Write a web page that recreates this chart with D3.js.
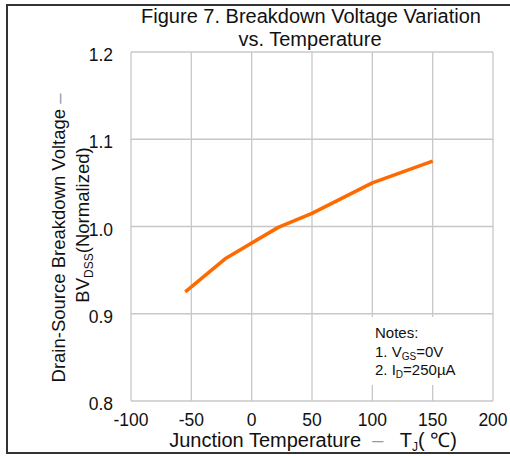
<!DOCTYPE html>
<meta charset="utf-8">
<head>
  <title>Figure 7. Breakdown Voltage Variation</title>
</head>
<style>
body {
  margin: 0;
  background: #fff;
  font-family: "Liberation Sans", Arial, sans-serif;
}
.grid line {
  stroke: #c8c8c8;
  stroke-width: 1.3;
}
text {
  fill: #111;
}
</style>
<body>
  <svg width="510" height="456"></svg>

  <script src="https://cdnjs.cloudflare.com/ajax/libs/d3/7.8.5/d3.min.js"></script>
  <script>
      // values
      var tempC = [-55, -22, 22, 50, 100, 150]
      var bvNorm = [0.925, 0.963, 0.999, 1.015, 1.05, 1.075]
      var xTicks = [-100, -50, 0, 50, 100, 150, 200]
      var yTicks = [0.8, 0.9, 1.0, 1.1, 1.2]

      var svg = d3.select('svg');

      var x = d3.scaleLinear().domain([-100, 200]).range([131, 493]);
      var y = d3.scaleLinear().domain([0.8, 1.2]).range([401, 52]);

      // outer frame (right edge runs off the page)
      svg.append('rect')
        .attr('x', 7).attr('y', 5)
        .attr('width', 520).attr('height', 448)
        .attr('fill', 'none')
        .attr('stroke', '#333')
        .attr('stroke-width', 2);

      // grid
      var grid = svg.append('g').attr('class', 'grid');
      grid.selectAll('line.v').data(xTicks).enter().append('line')
        .attr('x1', d => x(d)).attr('x2', d => x(d))
        .attr('y1', y(1.2)).attr('y2', y(0.8));
      grid.selectAll('line.h').data(yTicks).enter().append('line')
        .attr('x1', x(-100)).attr('x2', x(200))
        .attr('y1', d => y(d)).attr('y2', d => y(d));

      // tick labels
      svg.append('g').selectAll('text').data(yTicks).enter().append('text')
        .attr('x', 113)
        .attr('y', d => y(d) + 9)
        .attr('text-anchor', 'end')
        .style('font-size', '17.5px')
        .text(d => d.toFixed(1));

      svg.append('g').selectAll('text').data(xTicks).enter().append('text')
        .attr('x', d => x(d))
        .attr('y', 426)
        .attr('text-anchor', 'middle')
        .style('font-size', '17.5px')
        .text(d => d);

      // curve
      var line = d3.line()
        .x((d, i) => x(tempC[i]))
        .y(d => y(d));

      svg.append('path')
        .datum(bvNorm)
        .attr('d', line)
        .attr('fill', 'none')
        .attr('stroke', '#ff6a00')
        .attr('stroke-width', 3.5)
        .attr('stroke-linejoin', 'round');

      // notes box
      svg.append('rect')
        .attr('x', 364).attr('y', 317)
        .attr('width', 118).attr('height', 68)
        .attr('fill', '#fff');

      var notes = svg.append('g').style('font-size', '15px');
      notes.append('text').attr('x', 375).attr('y', 338).text('Notes:');
      var n1 = notes.append('text').attr('x', 375).attr('y', 357);
      n1.append('tspan').text('1. V');
      n1.append('tspan').attr('dy', 3).style('font-size', '10px').text('GS');
      n1.append('tspan').attr('dy', -3).text('=0V');
      var n2 = notes.append('text').attr('x', 375).attr('y', 375);
      n2.append('tspan').text('2. I');
      n2.append('tspan').attr('dy', 3).style('font-size', '10px').text('D');
      n2.append('tspan').attr('dy', -3).text('=250\u00b5A');

      // title
      svg.append('text')
        .attr('x', 311).attr('y', 23)
        .attr('text-anchor', 'middle')
        .style('font-size', '20px')
        .text('Figure 7. Breakdown Voltage Variation');
      svg.append('text')
        .attr('x', 310).attr('y', 46)
        .attr('text-anchor', 'middle')
        .style('font-size', '20px')
        .text('vs. Temperature');

      // x axis title
      var xt = svg.append('text')
        .attr('x', 313).attr('y', 447)
        .attr('text-anchor', 'middle')
        .style('white-space', 'pre')
        .style('font-size', '20px');
      xt.append('tspan').text('Junction Temperature  ');
      xt.append('tspan').style('fill', '#999').text('\u2013');
      xt.append('tspan').text('   T');
      xt.append('tspan').attr('dy', 4).style('font-size', '12px').text('J');
      xt.append('tspan').attr('dy', -4).text('( \u2103)');

      // y axis title, two rotated lines
      var yt1 = svg.append('text')
        .attr('transform', 'translate(65,238) rotate(-90)')
        .attr('text-anchor', 'middle')
        .style('font-size', '18.5px');
      yt1.append('tspan').text('Drain-Source Breakdown Voltage ');
      yt1.append('tspan').style('fill', '#8a9bb0').text('\u2013');

      var yt2 = svg.append('text')
        .attr('transform', 'translate(89,225) rotate(-90)')
        .attr('text-anchor', 'middle')
        .style('font-size', '18.5px');
      yt2.append('tspan').text('BV');
      yt2.append('tspan').attr('dy', 4).style('font-size', '12px').text('DSS');
      yt2.append('tspan').attr('dy', -4).text('(Normalized)');
  </script>
</body>
</html>
